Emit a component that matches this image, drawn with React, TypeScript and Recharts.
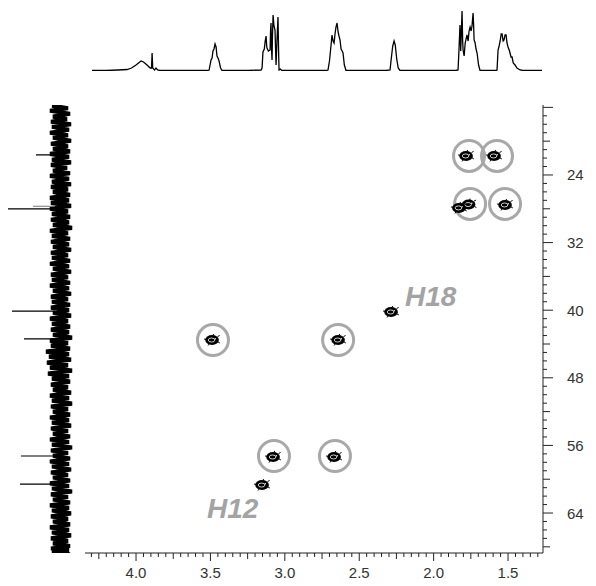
import React from 'react';
import { ScatterChart, Scatter, XAxis, YAxis, LineChart, Line } from 'recharts';

// ---- data ----
// 1H (F2) axis domain (ppm, drawn reversed) and 13C (F1) axis domain (ppm)
const H_DOMAIN: [number, number] = [1.265, 4.343];
const C_DOMAIN: [number, number] = [15.72, 68.73];

// cross peaks of the HSQC: [1H ppm, 13C ppm]
const crossPeaks: [number, number][] = [
  [1.782, 21.75],
  [1.594, 21.75],
  [1.765, 27.5],
  [1.83, 27.9],
  [1.52, 27.55],
  [2.286, 40.21],
  [3.489, 43.53],
  [2.642, 43.53],
  [3.079, 57.37],
  [2.669, 57.37],
  [3.153, 60.69],
];

// highlighted (circled) cross peaks
const circledPeaks: [number, number][] = [
  [1.762, 21.75],
  [1.574, 21.75],
  [1.755, 27.43],
  [1.52, 27.43],
  [3.483, 43.53],
  [2.642, 43.53],
  [3.073, 57.25],
  [2.663, 57.25],
];

// annotations: [1H ppm, 13C ppm, text]
const annotations: [number, number, string][] = [
  [2.192, 39.5, 'H18'],
  [3.523, 64.59, 'H12'],
];

// 1H projection on top: [ppm, intensity]
const topSpectrum: [number, number][] = [
  [4.296, 0.5], [4.2, 0.5], [4.12, 1], [4.06, 1.5], [4.03, 3], [4.0, 6], [3.975, 9], [3.966, 10], [3.95, 9],
  [3.926, 6], [3.905, 3], [3.896, 3], [3.892, 18], [3.888, 3], [3.875, 1], [3.866, 3], [3.855, 1], [3.839, 0.5],
  [3.6, 0.5], [3.52, 0.5], [3.509, 1], [3.496, 11], [3.489, 13], [3.483, 20], [3.476, 22], [3.469, 27],
  [3.462, 24], [3.456, 15], [3.449, 13], [3.442, 10], [3.432, 3], [3.422, 0.5],
  [3.25, 0.5], [3.16, 1], [3.153, 3], [3.147, 19], [3.138, 22], [3.132, 30], [3.126, 35], [3.122, 25],
  [3.12, 23], [3.11, 20], [3.099, 21], [3.096, 40], [3.093, 48], [3.089, 20], [3.086, 11], [3.083, 35],
  [3.079, 56], [3.073, 45], [3.066, 41], [3.062, 20], [3.059, 6], [3.053, 30], [3.046, 54], [3.042, 20],
  [3.039, 1], [3.03, 2], [3.02, 0.5],
  [2.72, 0.5], [2.71, 1], [2.7, 10], [2.69, 25], [2.683, 36], [2.676, 30], [2.669, 28], [2.662, 38],
  [2.656, 44], [2.649, 48], [2.642, 39], [2.636, 35], [2.629, 31], [2.622, 22], [2.615, 20], [2.609, 18],
  [2.6, 6], [2.589, 0.5],
  [2.32, 0.5], [2.293, 1], [2.285, 12], [2.275, 25], [2.266, 30], [2.258, 26], [2.248, 12], [2.238, 3], [2.226, 0.5],
  [1.85, 0.5], [1.836, 1], [1.83, 20], [1.823, 46], [1.818, 20], [1.809, 60], [1.805, 30], [1.802, 21],
  [1.795, 15], [1.788, 28], [1.776, 36], [1.768, 30], [1.762, 40], [1.755, 44], [1.748, 40], [1.742, 45],
  [1.735, 58], [1.731, 45], [1.728, 31], [1.721, 28], [1.715, 22], [1.708, 18], [1.698, 6], [1.688, 0.5],
  [1.58, 0.5], [1.574, 1], [1.567, 21], [1.56, 25], [1.553, 30], [1.546, 37], [1.54, 37], [1.533, 30],
  [1.527, 31], [1.52, 36], [1.513, 36], [1.507, 28], [1.5, 24], [1.49, 20], [1.48, 14], [1.473, 14],
  [1.465, 8], [1.453, 6], [1.44, 3], [1.419, 1], [1.4, 0.5], [1.272, 0.5],
];

// 13C projection on the left: noise envelope [ppm, left excursion, right excursion] (x in px-units 0..85)
const noiseBand: [number, number, number][] = [
  [15.8, 52, 68], [16.4, 50, 70], [17.1, 53, 67], [17.7, 51, 71], [18.3, 52, 69], [19.0, 50, 68], [19.6, 53, 71],
  [20.3, 51, 68], [20.9, 53, 70], [21.5, 50, 69], [22.2, 52, 71], [22.8, 51, 67], [23.5, 53, 70], [24.1, 50, 69],
  [24.8, 52, 71], [25.4, 51, 68], [26.0, 53, 70], [26.7, 50, 69], [27.3, 51, 71], [28.0, 50, 68], [28.6, 52, 70],
  [29.3, 51, 69], [29.9, 53, 72], [30.6, 50, 68], [31.2, 52, 70], [31.9, 51, 69], [32.5, 53, 71], [33.2, 51, 68],
  [33.8, 52, 70], [34.5, 50, 69], [35.1, 53, 71], [35.8, 51, 68], [36.4, 52, 70], [37.1, 50, 69], [37.7, 53, 71],
  [38.4, 51, 68], [39.0, 52, 70], [39.7, 51, 69], [40.3, 53, 71], [41.0, 50, 68], [41.6, 52, 70], [42.3, 51, 69],
  [42.9, 53, 72], [43.6, 50, 68], [44.2, 51, 70], [44.9, 46, 69], [45.5, 49, 71], [46.2, 47, 68], [46.8, 50, 72],
  [47.5, 48, 69], [48.1, 52, 70], [48.8, 51, 68], [49.4, 53, 71], [50.1, 50, 69], [50.7, 52, 72], [51.4, 51, 68],
  [52.0, 53, 70], [52.7, 50, 69], [53.3, 52, 71], [54.0, 51, 68], [54.6, 53, 70], [55.3, 50, 69], [55.9, 52, 72],
  [56.6, 51, 68], [57.2, 53, 70], [57.9, 50, 69], [58.5, 52, 71], [59.2, 51, 68], [59.8, 53, 70], [60.5, 50, 69],
  [61.1, 52, 72], [61.8, 51, 68], [62.4, 53, 70], [63.1, 50, 69], [63.7, 52, 71], [64.4, 51, 68], [65.0, 53, 70],
  [65.7, 50, 69], [66.3, 52, 71], [67.0, 51, 68], [67.6, 53, 70], [68.2, 51, 69], [68.6, 52, 70],
];

// 13C projection signals: [ppm, tip position]
const carbonSpikes: [number, number][] = [
  [21.63, 36], [28.0, 8], [40.1, 12], [43.4, 24], [57.25, 21], [60.57, 20],
];
const carbonSpikesFaint: [number, number][] = [[27.7, 33]];

// axis ticks
const hTicks: number[] = [];
for (let i = 26; i <= 86; i++) hTicks.push(i / 20);
const cTicks: number[] = [];
for (let i = 16; i <= 68; i++) cTicks.push(i);
const hLabels = [4.0, 3.5, 3.0, 2.5, 2.0, 1.5];
const cLabels = [24, 32, 40, 48, 56, 64];

// ---- derived tables ----
const peakRows = crossPeaks.map(([h, c]) => ({ h, c }));
const circleRows = circledPeaks.map(([h, c]) => ({ h, c }));
const labelRows = annotations.map(([h, c, label]) => ({ h, c, label }));
const topRows = topSpectrum.map(([h, v]) => ({ h, v }));
const noiseRows: { x: number; c: number }[] = [];
noiseBand.forEach(([c, lo, hi], i) => {
  const next = i + 1 < noiseBand.length ? noiseBand[i + 1][0] : c + 0.6;
  noiseRows.push({ x: lo, c });
  noiseRows.push({ x: hi, c: (c + next) / 2 });
});
const spikeRows: { x: number; c: number | null }[] = [];
carbonSpikes.forEach(([c, tip]) => {
  spikeRows.push({ x: 55, c });
  spikeRows.push({ x: tip, c });
  spikeRows.push({ x: tip, c: null });
});
const faintRows: { x: number; c: number | null }[] = [];
carbonSpikesFaint.forEach(([c, tip]) => {
  faintRows.push({ x: 55, c });
  faintRows.push({ x: tip, c });
});

const FONT = '"Liberation Sans", Arial, sans-serif';
const AXIS_COLOR = '#222';

const near = (a: number, b: number) => Math.abs(a - b) < 1e-6;

const HTick = (props: any) => {
  const { x, y, payload } = props;
  const v = payload.value as number;
  const major = near(v * 2, Math.round(v * 2));
  const mid = !major && near(v * 4, Math.round(v * 4));
  const len = major ? 8 : mid ? 6 : 4;
  const labelled = hLabels.some((l) => near(l, v));
  return (
    <g>
      <line x1={x} y1={y} x2={x} y2={y + len} stroke={AXIS_COLOR} strokeWidth={1} />
      {labelled && (
        <text x={x} y={y + 25} textAnchor="middle" fontFamily={FONT} fontSize={15} fill="#333">
          {v.toFixed(1)}
        </text>
      )}
    </g>
  );
};

const CTick = (props: any) => {
  const { x, y, payload } = props;
  const v = payload.value as number;
  const major = (v - 16) % 8 === 0;
  const mid = (v - 20) % 8 === 0;
  const len = major ? 10 : mid ? 7 : 4;
  const labelled = cLabels.includes(v);
  return (
    <g>
      <line x1={x} y1={y} x2={x + len} y2={y} stroke={AXIS_COLOR} strokeWidth={1} />
      {labelled && (
        <text x={x + 24} y={y + 5.5} textAnchor="start" fontFamily={FONT} fontSize={15} fill="#333">
          {v}
        </text>
      )}
    </g>
  );
};

const Blob = (props: any) => {
  const { cx, cy } = props;
  if (cx == null || cy == null) return null;
  return (
    <g>
      <ellipse cx={cx} cy={cy} rx={6.8} ry={5} fill="#000" />
      <path
        d={`M${cx - 8},${cy - 1} l2.5,0.5 M${cx + 5.5},${cy - 3.5} l2,-1 M${cx + 6},${cy + 2} l1.8,1 M${cx - 3},${cy + 4} l-1,1.5 M${cx + 1},${cy - 4.5} l0.5,-1.5`}
        stroke="#000"
        strokeWidth={1}
      />
      <ellipse cx={cx - 0.5} cy={cy} rx={3.3} ry={2} fill="none" stroke="#fff" strokeWidth={0.8} />
      <circle cx={cx + 3.2} cy={cy - 1.3} r={0.7} fill="#fff" />
    </g>
  );
};

const Ring = (props: any) => {
  const { cx, cy } = props;
  if (cx == null || cy == null) return null;
  return <circle cx={cx} cy={cy} r={15.5} fill="none" stroke="#a8a8a8" strokeWidth={3} />;
};

const Annot = (props: any) => {
  const { cx, cy, payload } = props;
  if (cx == null || cy == null) return null;
  return (
    <text x={cx} y={cy} textAnchor="start" fontFamily={FONT} fontWeight="bold" fontStyle="italic" fontSize={28} fill="#a3a3a3">
      {payload.label}
    </text>
  );
};

const SideChart = ({ rows, color, width }: { rows: any[]; color: string; width: number }) => (
  <LineChart width={85} height={586} data={rows} margin={{ top: 105, left: 0, right: 0, bottom: 33 }}>
    <XAxis type="number" dataKey="x" domain={[0, 85]} allowDataOverflow hide />
    <YAxis type="number" domain={C_DOMAIN} reversed allowDataOverflow hide />
    <Line
      type="linear"
      dataKey="c"
      stroke={color}
      strokeWidth={width}
      strokeLinejoin="bevel"
      dot={false}
      connectNulls={false}
      isAnimationActive={false}
    />
  </LineChart>
);

export default function App() {
  return (
    <div style={{ position: 'absolute', left: 0, top: 0, width: 596, height: 586, background: '#fff' }}>
      {/* main 2D map */}
      <div style={{ position: 'absolute', left: 0, top: 0 }}>
        <ScatterChart width={596} height={586} margin={{ top: 105, left: 85, right: 0, bottom: 0 }}>
          <XAxis
            type="number"
            dataKey="h"
            domain={H_DOMAIN}
            reversed
            allowDataOverflow
            ticks={hTicks}
            interval={0}
            height={33}
            tickSize={0}
            tickMargin={0}
            tickLine={false}
            axisLine={{ stroke: AXIS_COLOR }}
            tick={HTick}
          />
          <YAxis
            type="number"
            dataKey="c"
            orientation="right"
            domain={C_DOMAIN}
            reversed
            allowDataOverflow
            ticks={cTicks}
            interval={0}
            width={53}
            tickSize={0}
            tickMargin={0}
            tickLine={false}
            axisLine={{ stroke: AXIS_COLOR }}
            tick={CTick}
          />
          <Scatter data={circleRows} shape={Ring} isAnimationActive={false} />
          <Scatter data={peakRows} shape={Blob} isAnimationActive={false} />
          <Scatter data={labelRows} shape={Annot} isAnimationActive={false} />
        </ScatterChart>
      </div>

      {/* 1H projection (top) */}
      <div style={{ position: 'absolute', left: 0, top: 0 }}>
        <LineChart width={596} height={75} data={topRows} margin={{ top: 11, left: 85, right: 53, bottom: 4 }}>
          <XAxis type="number" dataKey="h" domain={H_DOMAIN} reversed allowDataOverflow hide />
          <YAxis type="number" domain={[0, 60]} allowDataOverflow hide />
          <Line type="linear" dataKey="v" stroke="#000" strokeWidth={1.3} dot={false} isAnimationActive={false} />
        </LineChart>
      </div>

      {/* 13C projection (left) */}
      <div style={{ position: 'absolute', left: 0, top: 0 }}>
        <SideChart rows={noiseRows} color="#000" width={4.2} />
      </div>
      <div style={{ position: 'absolute', left: 0, top: 0 }}>
        <SideChart rows={spikeRows} color="#000" width={1.2} />
      </div>
      <div style={{ position: 'absolute', left: 0, top: 0 }}>
        <SideChart rows={faintRows} color="#777" width={1} />
      </div>
    </div>
  );
}
